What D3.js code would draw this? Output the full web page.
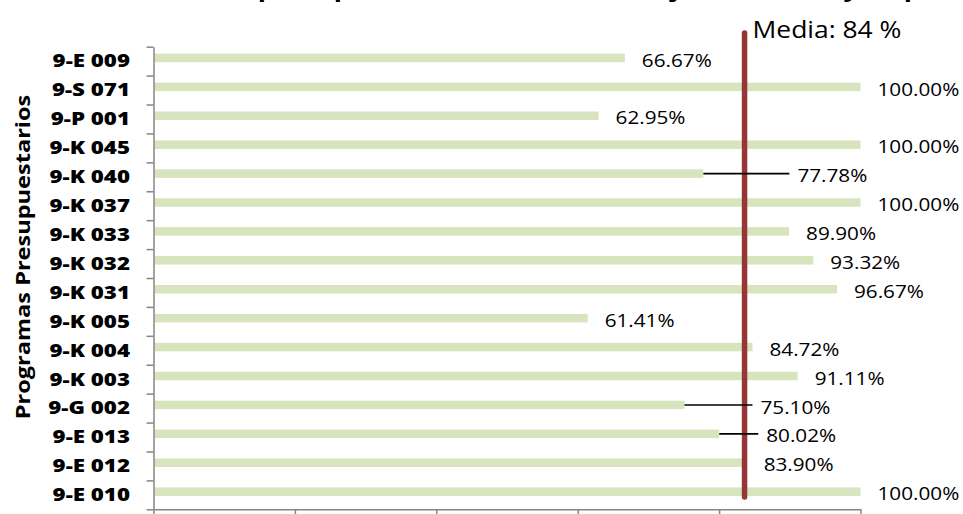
<!DOCTYPE html>
<html>
<head>
<meta charset="utf-8">
<script src="https://cdn.jsdelivr.net/npm/d3@7"></script>
<style>
  html, body { margin: 0; padding: 0; background: #ffffff; }
  svg { display: block; }
</style>
</head>
<body>
<svg id="chart" width="963" height="514"></svg>
<script>
// ---- data ----
const categories = ["9-E 009","9-S 071","9-P 001","9-K 045","9-K 040","9-K 037","9-K 033","9-K 032",
                    "9-K 031","9-K 005","9-K 004","9-K 003","9-G 002","9-E 013","9-E 012","9-E 010"];
const values = [66.67, 100.00, 62.95, 100.00, 77.78, 100.00, 89.90, 93.32,
                96.67, 61.41, 84.72, 91.11, 75.10, 80.02, 83.90, 100.00];
const meanValue = 83.6;
const meanLabel = "Media: 84 %";
const xTicks = [0, 20, 40, 60, 80, 100];
const titleText = "Avance de metas de los presupuestarios, al cierre del ejercicio 2013 y su presupuesto";
const yTitle = "Programas Presupuestarios";
// labels moved right of the mean line, with a leader line (pixel shift)
const leaderShift = {"9-K 040": 77, "9-G 002": 59, "9-E 013": 30};

// ---- layout ----
const svg = d3.select("#chart");
const mLeft = 153.5, mRight = 860.5, mTop = 46.7, mBottom = 509.3;
const x = d3.scaleLinear().domain([0, 100]).range([mLeft, mRight]);
const y = d3.scaleBand().domain(categories).range([mTop, mBottom]).padding(0);
const yIdx = d3.scaleLinear().domain([0, categories.length]).range([mTop, mBottom]);

const axisColor = "#868686";
const barColor = "#d7e4bd";
const meanColor = "#953735";
const font = "'Open Sans', 'Noto Sans', sans-serif";

// title (mostly clipped above the window, as in the source image)
svg.append("text")
  .attr("transform", "translate(505,-4) scale(1.12,1)")
  .attr("text-anchor", "middle")
  .style("font-family", font).style("font-weight", "700").style("font-size", "24px")
  .attr("fill", "#000").text(titleText);

// bars
svg.append("g").selectAll("rect").data(values).join("rect")
  .attr("x", x(0) + 1)
  .attr("y", (d, i) => y(categories[i]) + 7)
  .attr("width", d => x(d) - x(0) - 1)
  .attr("height", 8.5)
  .attr("fill", barColor);

// axes
const gy = svg.append("g").attr("transform", `translate(${mLeft},0)`)
  .call(d3.axisLeft(yIdx).tickValues(d3.range(categories.length + 1)).tickSize(7).tickSizeOuter(0).tickFormat(""));
const gx = svg.append("g").attr("transform", `translate(0,${mBottom})`)
  .call(d3.axisBottom(x).tickValues(xTicks).tickSize(7).tickSizeOuter(0).tickFormat(""));
[gx, gy].forEach(g => {
  g.select(".domain").attr("stroke", axisColor).attr("stroke-width", 1.5);
  g.selectAll(".tick line").attr("stroke", axisColor).attr("stroke-width", 1.5);
});

// category labels
svg.append("g").selectAll("text").data(categories).join("text")
  .attr("transform", d => `translate(130,${y(d) + y.bandwidth() / 2}) scale(1.24,1)`)
  .attr("text-anchor", "end").attr("dy", "0.35em")
  .style("font-family", font).style("font-weight", "800").style("font-size", "18px")
  .attr("fill", "#000").text(d => d);

// y title
svg.append("text")
  .attr("transform", `translate(30,257) rotate(-90) scale(1.24,1)`)
  .attr("text-anchor", "middle")
  .style("font-family", font).style("font-weight", "700").style("font-size", "19px")
  .attr("fill", "#000").text(yTitle);

// mean line
svg.append("line")
  .attr("x1", x(meanValue)).attr("x2", x(meanValue))
  .attr("y1", 33).attr("y2", 497)
  .attr("stroke", meanColor).attr("stroke-width", 5.5).attr("stroke-linecap", "round");

svg.append("text")
  .attr("transform", `translate(${x(meanValue) + 8},38) scale(1.15,1)`)
  .style("font-family", font).style("font-size", "23px")
  .attr("fill", "#000").text(meanLabel);

// value labels + leader lines
const fmt = d => d.toFixed(2) + "%";
const labels = svg.append("g");
values.forEach((v, i) => {
  const c = categories[i];
  const cy = y(c) + y.bandwidth() / 2 - 1;
  const shift = leaderShift[c] || 0;
  const lx = x(v) + 17 + shift;
  if (shift) {
    labels.append("line")
      .attr("x1", x(v)).attr("x2", lx - 8)
      .attr("y1", y(c) + 11.3).attr("y2", y(c) + 11.3)
      .attr("stroke", "#000").attr("stroke-width", 1.6);
  }
  labels.append("text")
    .attr("transform", `translate(${lx},${cy}) scale(1.12,1)`)
    .attr("dy", "0.35em")
    .style("font-family", font).style("font-size", "18.5px")
    .attr("fill", "#000").text(fmt(v));
});
</script>
</body>
</html>
